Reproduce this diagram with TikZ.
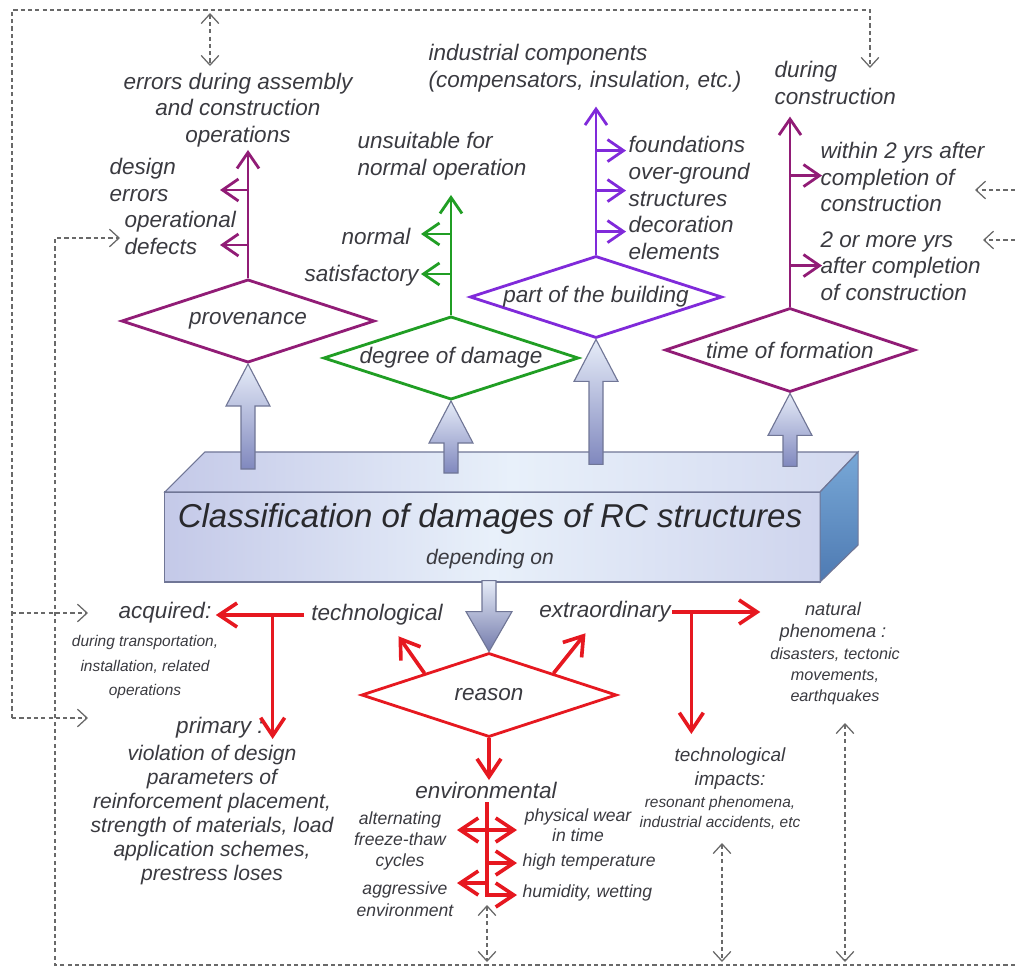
\documentclass[tikz,border=0pt]{standalone}
\usepackage{fontspec}
\setmainfont{Liberation Sans}
\usetikzlibrary{shapes.geometric,arrows.meta}

\definecolor{provcol}{RGB}{145,28,118}
\definecolor{degcol}{RGB}{32,158,36}
\definecolor{partcol}{RGB}{128,42,218}
\definecolor{reascol}{RGB}{230,24,32}
\definecolor{txtcol}{RGB}{58,58,64}
\definecolor{dashcol}{RGB}{105,105,105}
\definecolor{edgecol}{RGB}{112,118,150}
\definecolor{boxlight}{RGB}{232,240,250}
\definecolor{boxdark}{RGB}{196,201,232}
\definecolor{sidetop}{RGB}{120,168,215}
\definecolor{sidebot}{RGB}{78,122,178}
\definecolor{arrlight}{RGB}{230,236,248}
\definecolor{arrdark}{RGB}{128,136,190}

\tikzset{
  lbl/.style={font=\fontsize{16}{19}\selectfont\itshape, text=txtcol, inner sep=1pt},
  sublbl/.style={font=\fontsize{11.5}{15}\selectfont\itshape, text=txtcol, inner sep=1pt},
  dmd/.style={diamond, draw, line width=2pt, inner sep=0pt, aspect=3},
  stem/.style={line width=2pt, >={Straight Barb[length=4mm,width=5.5mm]}},
  redarr/.style={reascol, line width=2.6pt, >={Straight Barb[length=4.5mm,width=6mm]}},
  dline/.style={dashcol, line width=0.9pt, dash pattern=on 3pt off 2.2pt, >={Straight Barb[length=2.4mm,width=4.4mm]}},
  blockarr/.style={draw=edgecol, line width=0.8pt, top color=arrlight, bottom color=arrdark},
  frontbox/.style={rectangle, draw=edgecol, line width=0.8pt, outer sep=0pt, inner sep=0pt, left color=boxdark, right color=boxdark!70!boxlight, middle color=boxlight},
}

% block arrow pointing at a diamond: tip anchor, shaft length
\NewDocumentCommand{\blockup}{m m}{
    \draw[blockarr] (#1) -- ++(22,42) -- ++(-15,0) -- ++(0,#2) -- ++(-14,0) -- ++(0,-#2) -- ++(-15,0) -- cycle;
}

\begin{document}
\begin{tikzpicture}[x=0.025cm, y=-0.025cm]
    \useasboundingbox (0,0) rectangle (1015,967);

    % dashed feedback lines
    \draw[dline,->] (12,718) -- (12,10) -- (870,10) -- (870,68);
    \draw[dline,<->] (210,13) -- (210,66);
    \draw[dline,->] (12,613) -- (88,613);
    \draw[dline,->] (12,718) -- (88,718);
    \draw[dline,->] (1015,965) -- (55,965) -- (55,238) -- (120,238);
    \draw[dline,->] (1015,190) -- (975,190);
    \draw[dline,->] (1015,240) -- (983,240);
    \draw[dline,<->] (487,905) -- (487,962);
    \draw[dline,<->] (722,843) -- (722,962);
    \draw[dline,<->] (845,723) -- (845,962);

    % the box
    \node[frontbox, minimum width=16.375cm, minimum height=2.25cm] (cls) at (492.5,537) {};
    \draw[draw=edgecol, line width=0.8pt, left color=boxdark, right color=boxdark!60!boxlight, middle color=boxlight]
        (cls.north west) -- ++(40,-40) -- ++(653,0) -- (cls.north east) -- cycle;
    \draw[draw=edgecol, line width=0.8pt, top color=sidetop, bottom color=sidebot]
        (cls.north east) -- ++(38,-40) -- ++(0,93) -- (cls.south east) -- cycle;
    \node[font=\fontsize{23.5}{28}\selectfont\itshape, text=txtcol!70!black] (title) at (490,519) {Classification of damages of RC structures};
    \node[lbl, font=\fontsize{15}{18}\selectfont\itshape] (depon) at (490,559) {depending on};

    % diamonds
    \node[dmd, provcol, minimum width=6.33cm, minimum height=2.08cm, label={[lbl]center:provenance}] (prov) at (248,321) {};
    \node[dmd, degcol, minimum width=6.38cm, minimum height=2.08cm, label={[lbl]center:degree of damage}] (deg) at (451,358) {};
    \node[dmd, partcol, minimum width=6.3cm, minimum height=2.05cm, label={[lbl]center:part of the building}] (part) at (596,297) {};
    \node[dmd, provcol, minimum width=6.25cm, minimum height=2.1cm, label={[lbl]center:time of formation}] (formation) at (790,350) {};
    \node[dmd, reascol, minimum width=6.38cm, minimum height=2.1cm, label={[lbl]center:reason}] (reason) at (489,695) {};

    \blockup{prov.south}{63}
    \blockup{deg.south}{30}
    \blockup{part.south}{83}
    \blockup{formation.south}{31}
    \draw[blockarr, top color=arrlight, bottom color=arrdark!90!black]
        (reason.north) -- ++(23,-40) -- ++(-16,0) -- ++(0,-31) -- ++(-14,0) -- ++(0,31) -- ++(-16,0) -- cycle;

    % provenance
    \node[lbl, align=center] (errasm) at (238,110) {errors during assembly\\and construction\\operations};
    \node[lbl, align=left, anchor=west] (design) at (108,180) {design\\errors};
    \node[lbl, align=left, anchor=west] (opdef) at (123,233) {operational\\defects};
    \draw[stem, provcol, ->] (prov.north) -- ++(0,-128);
    \draw[stem, provcol, ->] (prov.north) ++(0,-88) -- ++(-28,0);
    \draw[stem, provcol, ->] (prov.north) ++(0,-33) -- ++(-28,0);

    % degree of damage
    \node[lbl, align=left, anchor=west] (unsuit) at (356,156) {unsuitable for\\normal operation};
    \node[lbl, anchor=east] (normal) at (412,236) {normal};
    \node[lbl, anchor=east] (satisf) at (420,276) {satisfactory};
    \draw[stem, degcol, ->] (deg.north) -- ++(0,-120);
    \draw[stem, degcol, ->] (deg.north) ++(0,-81) -- ++(-30,0);
    \draw[stem, degcol, ->] (deg.north) ++(0,-41) -- ++(-30,0);

    % part of the building
    \node[lbl, align=left, anchor=west] (indus) at (427,68) {industrial components\\(compensators, insulation, etc.)};
    \node[lbl, align=left, anchor=west] (found) at (627,198) {foundations\\over-ground\\structures\\decoration\\elements};
    \draw[stem, partcol, ->] (part.north) -- ++(0,-148);
    \draw[stem, partcol, ->] (part.north) ++(0,-104) -- ++(30,0);
    \draw[stem, partcol, ->] (part.north) ++(0,-64) -- ++(30,0);
    \draw[stem, partcol, ->] (part.north) ++(0,-23) -- ++(30,0);

    % time of formation
    \node[lbl, align=left, anchor=west] (during) at (773,83) {during\\construction};
    \node[lbl, align=left, anchor=west] (within) at (819,177) {within 2 yrs after\\completion of\\construction};
    \node[lbl, align=left, anchor=west] (twoyrs) at (819,266) {2 or more yrs\\after completion\\of construction};
    \draw[stem, provcol, ->] (formation.north) -- ++(0,-190);
    \draw[stem, provcol, ->] (formation.north) ++(0,-131) -- ++(32,0);
    \draw[stem, provcol, ->] (formation.north) ++(0,-41) -- ++(32,0);

    % reason
    \node[lbl] (techno) at (377,615) {technological};
    \node[lbl] (extra) at (605,612) {extraordinary};
    \node[lbl] (envir) at (486,790) {environmental};
    \draw[redarr, ->] (reason.north west) -- ++(-26,-37);
    \draw[redarr, ->] (reason.north east) -- ++(32,-40);
    \draw[redarr, ->] (reason.south) -- (reason.south |- envir.north);

    % technological
    \node[lbl] (acquired) at (165,613) {acquired:};
    \node[sublbl, font=\fontsize{11}{17.5}\selectfont\itshape, align=center] (acqsub) at (145,667) {during transportation,\\installation, related\\operations};
    \node[lbl] (primary) at (220,728) {primary :};
    \node[lbl, font=\fontsize{15}{17}\selectfont\itshape, align=center] (primsub) at (212,815) {violation of design\\parameters of\\reinforcement placement,\\strength of materials, load\\application schemes,\\prestress loses};
    \draw[redarr, ->] ([xshift=-4pt]techno.west) -- ([xshift=2pt]techno.west -| acquired.east);
    \draw[redarr, ->] (techno.west) ++(-37,0) -- ++(0,124);

    % extraordinary
    \node[lbl, font=\fontsize{13}{15.6}\selectfont\itshape, align=center] (natural) at (833,622) {natural\\phenomena :};
    \node[sublbl, align=center] (natsub) at (835,676) {disasters, tectonic\\movements,\\earthquakes};
    \node[lbl, font=\fontsize{13.5}{17}\selectfont\itshape, align=center] (techimp) at (730,769) {technological\\impacts:};
    \node[sublbl, font=\fontsize{11}{14.2}\selectfont\itshape, align=center] (impsub) at (720,813) {resonant phenomena,\\industrial accidents, etc};
    \draw[redarr, ->] (extra.east) -- ++(88,0);
    \draw[redarr, ->] (extra.east) ++(19,0) -- ++(0,122);

    % environmental
    \coordinate (es) at (487,802);
    \node[sublbl, font=\fontsize{12.5}{15}\selectfont\itshape, align=center] (freeze) at (400,841) {alternating\\freeze-thaw\\cycles};
    \node[sublbl, font=\fontsize{12.5}{15.5}\selectfont\itshape, align=center] (aggr) at (405,899) {aggressive\\environment};
    \node[sublbl, font=\fontsize{12.5}{14.5}\selectfont\itshape, align=center] (physw) at (578,825) {physical wear\\in time};
    \node[sublbl, font=\fontsize{12.5}{15}\selectfont\itshape, anchor=west] (hight) at (521,862) {high temperature};
    \node[sublbl, font=\fontsize{12.5}{15}\selectfont\itshape, anchor=west] (humid) at (521,893) {humidity, wetting};
    \draw[redarr, ->] (es) -- ++(0,93) -- ++(30,0);
    \draw[redarr, <->] (es) ++(-30,28) -- ++(60,0);
    \draw[redarr, ->] (es) ++(0,61) -- ++(30,0);
    \draw[redarr, ->] (es) ++(0,81) -- ++(-30,0);
\end{tikzpicture}
\end{document}
